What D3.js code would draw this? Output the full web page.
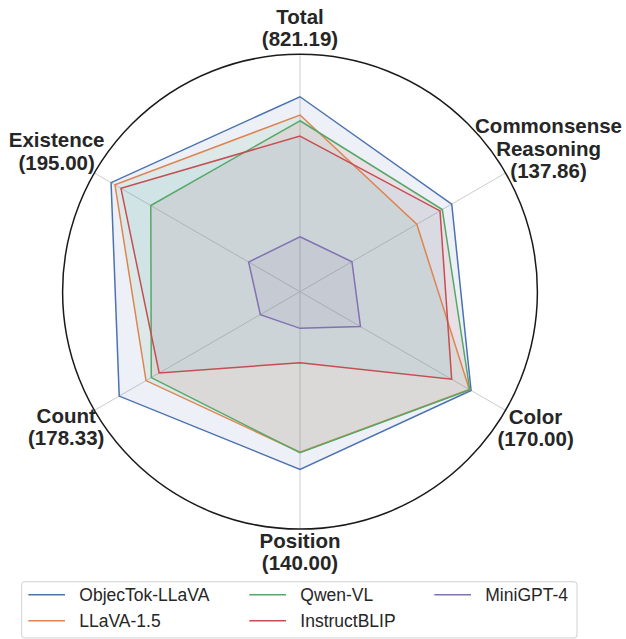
<!DOCTYPE html>
<html><head><meta charset="utf-8">
<script src="https://cdn.jsdelivr.net/npm/d3@7"></script>
<style>body{margin:0;background:#fff}svg{display:block}</style>
</head><body>
<svg id="chart" width="626" height="639"></svg>
<script>
// ---- data ----
const axisNames = ["Total", "Commonsense Reasoning", "Color", "Position", "Count", "Existence"];
const axisLabelLines = [
  ["Total", "(821.19)"],
  ["Commonsense", "Reasoning", "(137.86)"],
  ["Color", "(170.00)"],
  ["Position", "(140.00)"],
  ["Count", "(178.33)"],
  ["Existence", "(195.00)"]
];
// value reached at the outer circle for each axis
const axisMax = [1000, 186.8, 204.3, 187.1, 202.8, 212.2];

const seriesNames = ["ObjecTok-LLaVA", "LLaVA-1.5", "Qwen-VL", "InstructBLIP", "MiniGPT-4"];
const objectokLLaVA = [821.19, 137.86, 170.00, 140.00, 178.33, 195.00];
const llava15      = [744.1, 106.1, 168.3, 126.5, 151.9, 191.0];
const qwenVL       = [720.1, 129.3, 168.7, 126.9, 146.7, 154.0];
const instructBLIP = [655.7, 127.2, 150.7, 56.0, 138.9, 184.8];
const miniGPT4     = [231.6, 47.2, 60.1, 28.9, 39.1, 53.0];
const seriesValues = [objectokLLaVA, llava15, qwenVL, instructBLIP, miniGPT4];

const lineColors = ["#4C72B0", "#DD8452", "#55A868", "#C44E52", "#8172B3"];
const fillColors = ["#4C72B0", "#55A868", "#C44E52", "#64B5CD", "#8172B3"];

// ---- layout ----
const cx = 300, cy = 291.7, R = 237.4;
const labelDist = [264, 287, 272, 260, 270, 281];
const svg = d3.select("#chart");
const g = svg.append("g").attr("transform", `translate(${cx},${cy})`);
const n = axisNames.length;
const angle = d3.scaleLinear().domain([0, n]).range([0, 2 * Math.PI]);
const rScales = axisMax.map(m => d3.scaleLinear().domain([0, m]).range([0, R]));

// spokes
g.selectAll("line.spoke").data(axisNames).join("line")
  .attr("class", "spoke")
  .attr("x1", 0).attr("y1", 0)
  .attr("x2", (d, i) => R * Math.sin(angle(i)))
  .attr("y2", (d, i) => -R * Math.cos(angle(i)))
  .attr("stroke", "#cccccc").attr("stroke-width", 1);

const radial = d3.lineRadial()
  .angle((d, i) => angle(i))
  .radius((d, i) => rScales[i](d))
  .curve(d3.curveLinearClosed);

// fills (below lines)
g.selectAll("path.area").data(seriesValues).join("path")
  .attr("class", "area")
  .attr("d", d => radial(d))
  .attr("fill", (d, i) => fillColors[i])
  .attr("fill-opacity", 0.1)
  .attr("stroke", "none");

// lines
g.selectAll("path.line").data(seriesValues).join("path")
  .attr("class", "line")
  .attr("d", d => radial(d))
  .attr("fill", "none")
  .attr("stroke", (d, i) => lineColors[i])
  .attr("stroke-width", 1.5)
  .attr("stroke-linejoin", "miter");

// outer circle
g.append("circle").attr("r", R).attr("fill", "none")
  .attr("stroke", "#1a1a1a").attr("stroke-width", 1.5);

// axis labels
const fs = 20.5, lh = 22.4;
axisLabelLines.forEach((lines, i) => {
  const a = angle(i);
  const x = labelDist[i] * Math.sin(a);
  const y = -labelDist[i] * Math.cos(a);
  const t = g.append("text")
    .attr("text-anchor", "middle")
    .attr("font-family", "'Liberation Sans', Arial, sans-serif")
    .attr("font-weight", "bold")
    .attr("font-size", fs)
    .attr("fill", "#262626");
  lines.forEach((s, k) => {
    t.append("tspan").attr("x", x)
      .attr("y", y + (k - (lines.length - 1) / 2) * lh + 0.36 * fs)
      .text(s);
  });
});

// legend
const lg = svg.append("g");
lg.append("rect").attr("x", 21.7).attr("y", 581.7).attr("width", 555.3).attr("height", 56.3)
  .attr("rx", 3).attr("fill", "#fff").attr("fill-opacity", 0.8)
  .attr("stroke", "#d0d0d0").attr("stroke-width", 1);
const colX = [28.3, 249.3, 434.3];
const rowY = [594.7, 620.7];
seriesNames.forEach((name, i) => {
  const col = Math.floor(i / 2), row = i % 2;
  const x = colX[col], y = rowY[row];
  lg.append("line").attr("x1", x).attr("x2", x + 36.7).attr("y1", y).attr("y2", y)
    .attr("stroke", lineColors[i]).attr("stroke-width", 1.5);
  lg.append("text").attr("x", x + 51).attr("y", y + 6.5)
    .attr("font-family", "'Liberation Sans', Arial, sans-serif")
    .attr("font-size", 17.5).attr("fill", "#262626").text(name);
});
</script>
</body></html>
